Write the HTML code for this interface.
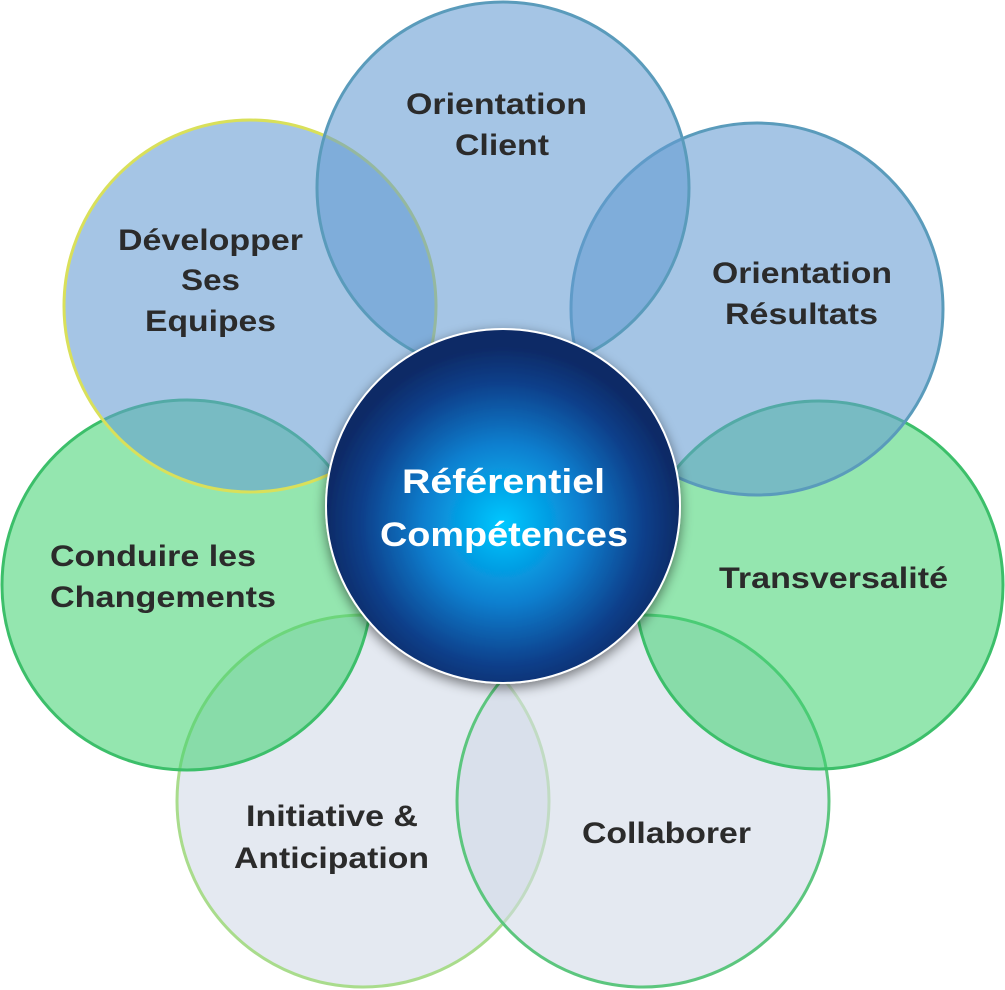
<!DOCTYPE html>
<html><head><meta charset="utf-8"><style>
html,body{margin:0;padding:0;background:#fff;}
svg{display:block}
text{font-family:"Liberation Sans",Arial,sans-serif;font-weight:bold;}
</style></head><body>
<svg width="1005" height="990" viewBox="0 0 1005 990" xmlns="http://www.w3.org/2000/svg">
<defs>
<radialGradient id="cg" cx="50%" cy="55%" r="50%">
<stop offset="0" stop-color="#00c8ff"/>
<stop offset="0.45" stop-color="#0a7fcf"/>
<stop offset="0.8" stop-color="#0b3f8a"/>
<stop offset="1" stop-color="#0a2a66"/>
</radialGradient>
<filter id="sh" x="-20%" y="-20%" width="140%" height="140%">
<feGaussianBlur in="SourceAlpha" stdDeviation="6"/>
<feOffset dx="0" dy="4"/>
<feComponentTransfer><feFuncA type="linear" slope="0.5"/></feComponentTransfer>
<feMerge><feMergeNode/><feMergeNode in="SourceGraphic"/></feMerge>
</filter>
</defs>
<circle cx="363" cy="801" r="186" fill="rgba(210,218,232,0.6)" stroke="#a9dc8c" stroke-width="3"/>
<circle cx="643" cy="801" r="186" fill="rgba(210,218,232,0.6)" stroke="#5cc67e" stroke-width="3"/>
<circle cx="187" cy="585" r="185" fill="rgba(60,210,110,0.55)" stroke="#3cbf6a" stroke-width="3"/>
<circle cx="819" cy="585" r="184" fill="rgba(60,210,110,0.55)" stroke="#3cbf6a" stroke-width="3"/>
<circle cx="250" cy="306" r="186" fill="rgba(100,155,210,0.58)" stroke="#d9e05a" stroke-width="3"/>
<circle cx="757" cy="309" r="186" fill="rgba(100,155,210,0.58)" stroke="#5a9bbb" stroke-width="3"/>
<circle cx="503" cy="188" r="186" fill="rgba(100,155,210,0.58)" stroke="#5a9bbb" stroke-width="3"/>
<circle cx="503" cy="506" r="177" fill="url(#cg)" filter="url(#sh)" stroke="#ffffff" stroke-width="2"/>
<g fill="#2b2b2b" font-size="30" lengthAdjust="spacingAndGlyphs">
<text x="406" y="114" textLength="181" lengthAdjust="spacingAndGlyphs">Orientation</text>
<text x="455" y="155" textLength="94" lengthAdjust="spacingAndGlyphs">Client</text>
<text x="118" y="250" textLength="185" lengthAdjust="spacingAndGlyphs">Développer</text>
<text x="181" y="290" textLength="59" lengthAdjust="spacingAndGlyphs">Ses</text>
<text x="145" y="331" textLength="131" lengthAdjust="spacingAndGlyphs">Equipes</text>
<text x="712" y="283" textLength="180" lengthAdjust="spacingAndGlyphs">Orientation</text>
<text x="725" y="324" textLength="153" lengthAdjust="spacingAndGlyphs">Résultats</text>
<text x="50" y="566" textLength="206" lengthAdjust="spacingAndGlyphs">Conduire les</text>
<text x="50" y="607" textLength="226" lengthAdjust="spacingAndGlyphs">Changements</text>
<text x="719" y="588" textLength="229" lengthAdjust="spacingAndGlyphs">Transversalité</text>
<text x="246" y="826" textLength="172" lengthAdjust="spacingAndGlyphs">Initiative &amp;</text>
<text x="234" y="868" textLength="195" lengthAdjust="spacingAndGlyphs">Anticipation</text>
<text x="582" y="843" textLength="169" lengthAdjust="spacingAndGlyphs">Collaborer</text>
</g>
<g fill="#ffffff" font-size="34">
<text x="402" y="493" textLength="203" lengthAdjust="spacingAndGlyphs">Référentiel</text>
<text x="380" y="546" textLength="248" lengthAdjust="spacingAndGlyphs">Compétences</text>
</g>
</svg>
</body></html>
